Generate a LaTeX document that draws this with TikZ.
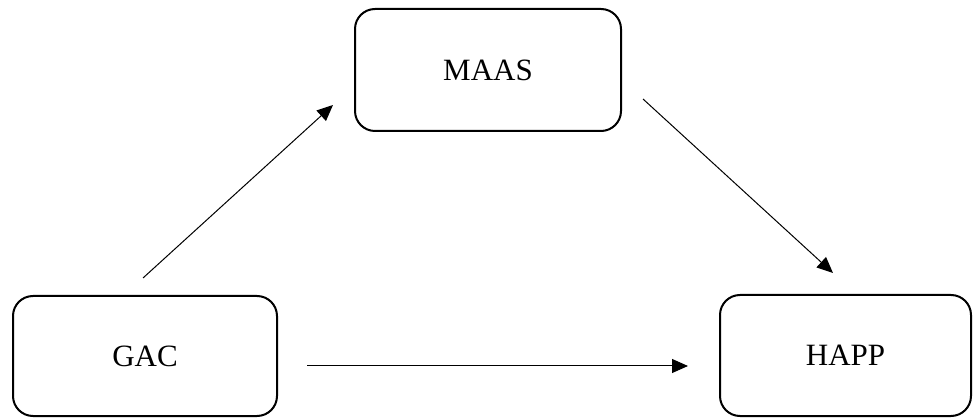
\documentclass[tikz,border=0pt]{standalone}
\usepackage{fontspec}
\setmainfont{Liberation Serif}
\usetikzlibrary{arrows.meta}
\tikzset{
  varbox/.style={draw=black, line width=2pt, rounded corners=20pt, inner sep=0pt,
    font=\fontsize{31}{36}\selectfont},
  conn/.style={draw=black, line width=1pt, -{Triangle[length=16pt,width=14pt]}}
}
\begin{document}
\begin{tikzpicture}[x=1pt,y=-1pt]
\useasboundingbox (0,0) rectangle (977,419);
\node[varbox, minimum width=266pt, minimum height=122pt] (maas) at (488,70) {MAAS};
\node[varbox, minimum width=264pt, minimum height=120pt] (gac) at (145,356) {GAC};
\node[varbox, minimum width=251pt, minimum height=121pt] (happ) at (845.5,355.5) {HAPP};
\coordinate (gacout) at (143,278);
\coordinate (maasin) at (333,105);
\coordinate (maasout) at (643,99);
\coordinate (happin) at (833,273);
\coordinate (gacright) at (307,366);
\coordinate (happleft) at (688,366);
\draw[conn] (gacout) -- (maasin);
\draw[conn] (maasout) -- (happin);
\draw[conn] (gacright) -- (happleft);
\end{tikzpicture}
\end{document}
